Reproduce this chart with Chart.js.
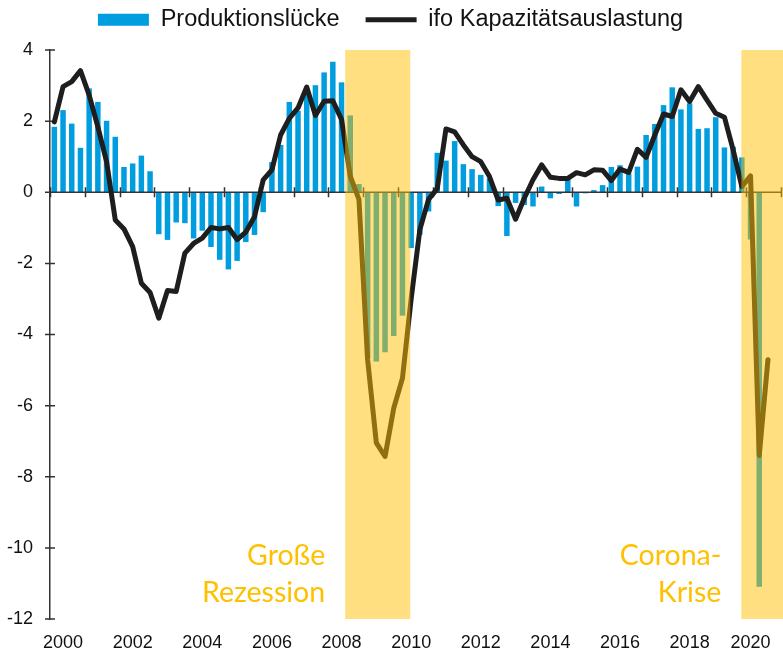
<!DOCTYPE html>
<html lang="de">
<head>
<meta charset="utf-8">
<title>Produktionslücke und ifo Kapazitätsauslastung</title>
<script src="https://cdn.jsdelivr.net/npm/chart.js@4.4.1/dist/chart.umd.min.js"></script>
<style>
  html, body { margin: 0; padding: 0; background: #fff; }
  #wrap { width: 783px; height: 651px; }
</style>
</head>
<body>
<div id="wrap"><canvas id="gapChart" width="783" height="651"></canvas></div>
<script>
// Quarterly categories, 2000Q1 .. 2020Q4
const quarters = [];
for (let y = 2000; y <= 2020; y++) {
  for (let q = 1; q <= 4; q++) quarters.push(y + 'Q' + q);
}

// Produktionslücke (bars)
const outputGap = [
  1.84, 2.31, 1.93, 1.25, 2.92, 2.54, 2.01, 1.56, 0.71, 0.81, 1.03, 0.59,
  -1.18, -1.34, -0.85, -0.87, -1.30, -1.08, -1.54, -1.90, -2.17, -1.93, -1.40, -1.20,
  -0.56, 0.85, 1.33, 2.54, 2.29, 2.85, 3.01, 3.37, 3.67, 3.09, 2.16, 0.23,
  -4.67, -4.76, -4.50, -4.04, -3.47, -1.57, -1.20, -0.54, 1.11, 0.89, 1.44, 0.79,
  0.65, 0.49, 0.39, -0.39, -1.23, -0.30, -0.36, -0.40, 0.16, -0.17, -0.05, 0.39,
  -0.40, -0.03, 0.06, 0.20, 0.71, 0.76, 0.53, 0.72, 1.61, 1.92, 2.45, 2.95,
  2.33, 2.50, 1.78, 1.80, 2.11, 1.26, 1.28, 0.98, -1.33, -11.09, null, null
];

// ifo Kapazitätsauslastung (line)
const ifoCapacity = [
  1.98, 2.97, 3.11, 3.42, 2.73, 1.84, 0.86, -0.78, -1.03, -1.53, -2.56, -2.82,
  -3.54, -2.76, -2.79, -1.71, -1.44, -1.29, -0.99, -1.03, -0.99, -1.33, -1.12, -0.69,
  0.35, 0.63, 1.61, 2.08, 2.37, 2.96, 2.16, 2.56, 2.57, 2.05, 0.45, -0.20,
  -4.71, -7.05, -7.43, -6.07, -5.23, -3.00, -1.05, -0.20, 0.10, 1.78, 1.70, 1.33,
  1.00, 0.86, 0.44, -0.22, -0.17, -0.76, -0.17, 0.35, 0.77, 0.42, 0.39, 0.39,
  0.55, 0.49, 0.63, 0.62, 0.33, 0.65, 0.56, 1.21, 0.98, 1.61, 2.20, 2.13,
  2.88, 2.55, 2.97, 2.59, 2.22, 2.11, 1.19, 0.16, 0.46, -7.40, -4.71, null
];

// x-axis labels and the quarter each one sits under
const tickLabels = ['2000', '2002', '2004', '2006', '2008', '2010', '2012', '2014', '2016', '2018', '2020'];
const tickAt = ['2000Q2', '2002Q2', '2004Q2', '2006Q2', '2008Q2', '2010Q2', '2012Q2', '2014Q2', '2016Q2', '2018Q2', '2020Q1'];

// shaded crisis periods (decimal years) and their captions
const bandStart = [2008.48, 2019.86];
const bandEnd = [2010.35, 2021.1];
const bandCaption = [['Große', 'Rezession'], ['Corona-', 'Krise']];

const barBlue = '#009DDF';
const lineBlack = '#1E1E1E';
const axisColor = '#333333';
const bandFill = 'rgba(255, 192, 0, 0.5)';
const captionColor = '#FFC000';
const legendShift = -18;   // legend sits partly above the canvas padding box
const legendHeight = 68;   // so the plot area starts at y = 50

const yearToIndex = yr => (yr - 2000) * 4 - 0.5;

/**
 * Zero line with yearly tick marks, y-axis cross ticks, crisis bands
 */
const decorPlugin = {
  id: 'decor',
  afterInit(chart) {
    const legend = chart.legend;
    if (legend) {
      const fit = legend.fit;
      legend.fit = function () {
        fit.call(this);
        this.height = legendHeight;
      };
    }
  },
  afterDatasetDraw(chart, args) {
    if (args.meta.type !== 'bar') return;
    const { ctx, chartArea, scales: { x, y } } = chart;
    const y0 = y.getPixelForValue(0);
    ctx.save();
    ctx.strokeStyle = axisColor;
    ctx.lineWidth = 1.5;
    ctx.beginPath();
    ctx.moveTo(chartArea.left, y0);
    ctx.lineTo(chartArea.right, y0);
    for (let i = 0; i <= quarters.length; i += 4) {
      const px = Math.round(x.getPixelForValue(i - 0.5)) + 0.5;
      ctx.moveTo(px, y0 - 5);
      ctx.lineTo(px, y0 + 5);
    }
    y.ticks.forEach(t => {
      const py = y.getPixelForValue(t.value);
      ctx.moveTo(chartArea.left - 5, py);
      ctx.lineTo(chartArea.left + 5, py);
    });
    ctx.stroke();
    ctx.restore();
  },
  afterDatasetsDraw(chart) {
    const { ctx, chartArea, scales: { x } } = chart;
    ctx.save();
    bandStart.forEach((start, b) => {
      const x1 = x.getPixelForValue(yearToIndex(start));
      const x2 = x.getPixelForValue(yearToIndex(bandEnd[b]));
      ctx.fillStyle = bandFill;
      ctx.fillRect(x1, chartArea.top, x2 - x1, chartArea.bottom - chartArea.top);

      ctx.fillStyle = captionColor;
      ctx.font = '28.5px Lato';
      ctx.textAlign = 'right';
      ctx.textBaseline = 'alphabetic';
      ctx.fillText(bandCaption[b][0], x1 - 20, chartArea.bottom - 54);
      ctx.fillText(bandCaption[b][1], x1 - 20, chartArea.bottom - 17);
    });
    ctx.restore();
  },
};

new Chart(document.getElementById('gapChart').getContext('2d'), {
  type: 'bar',
  data: {
    labels: quarters,
    datasets: [
      {
        type: 'line',
        label: 'ifo Kapazitätsauslastung',
        data: ifoCapacity,
        borderColor: lineBlack,
        backgroundColor: lineBlack,
        borderWidth: 5,
        borderJoinStyle: 'round',
        borderCapStyle: 'round',
        pointRadius: 0,
        pointStyle: 'line',
        tension: 0,
        order: 0,
      },
      {
        label: 'Produktionslücke',
        data: outputGap,
        backgroundColor: barBlue,
        borderWidth: 0,
        barPercentage: 0.63,
        categoryPercentage: 1,
        pointStyle: 'rect',
        order: 1,
      },
    ],
  },
  options: {
    responsive: false,
    animation: false,
    layout: {
      padding: { top: legendShift, right: 2, left: 0, bottom: 0 },
    },
    plugins: {
      legend: {
        position: 'top',
        reverse: true,
        labels: {
          usePointStyle: true,
          pointStyleWidth: 51,
          boxHeight: 12,
          padding: 26,
          color: '#111',
          font: { family: 'Liberation Sans, Arial, sans-serif', size: 23.5 },
        },
      },
      tooltip: { enabled: false },
    },
    scales: {
      x: {
        type: 'category',
        offset: true,
        grid: { display: false },
        border: { display: false },
        ticks: {
          autoSkip: false,
          maxRotation: 0,
          minRotation: 0,
          padding: 5,
          color: '#111',
          font: { family: 'Liberation Sans, Arial, sans-serif', size: 18 },
          callback: (value, index) => {
            const k = tickAt.indexOf(quarters[index]);
            return k >= 0 ? tickLabels[k] : '';
          },
        },
        afterFit: scale => { scale.height = 32; },
      },
      y: {
        min: -12,
        max: 4,
        grid: { display: false },
        border: { display: true, color: axisColor, width: 1.5 },
        ticks: {
          stepSize: 2,
          padding: 9,
          color: '#111',
          font: { family: 'Liberation Sans, Arial, sans-serif', size: 18 },
        },
        afterFit: scale => { scale.width = 50; },
      },
    },
  },
  plugins: [decorPlugin],
});
</script>
</body>
</html>
